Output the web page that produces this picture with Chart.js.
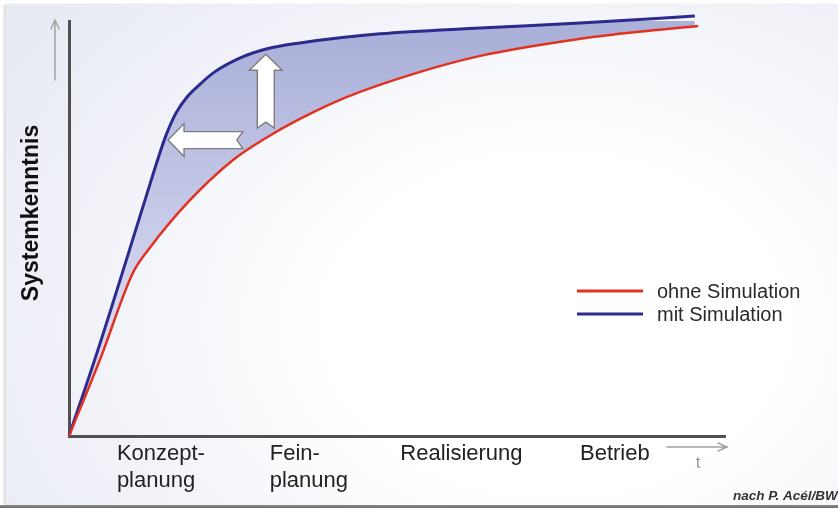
<!DOCTYPE html>
<html>
<head>
<meta charset="utf-8">
<title>Systemkenntnis mit und ohne Simulation</title>
<script src="https://cdn.jsdelivr.net/npm/chart.js@4.4.1/dist/chart.umd.min.js"></script>
<style>
  html, body { margin: 0; padding: 0; background: #ffffff; }
  #frame { position: relative; width: 838px; height: 508px; overflow: hidden; background: #ffffff; }
  #panel {
    position: absolute; left: 6px; top: 4px; width: 832px; height: 501px;
    background: radial-gradient(ellipse 72% 88% at 66% 64%, #ffffff 0%, #ffffff 38%, #f4f5fa 70%, #e8eaf4 110%);
    box-shadow: -2px 1px 3px rgba(0, 0, 0, 0.16);
  }
  #base { position: absolute; left: 0; top: 505px; width: 838px; height: 3px; background: linear-gradient(#8c8c8c, #6c6c6c); }
  #wrap { position: absolute; left: 0; top: 0; width: 838px; height: 508px; }
</style>
</head>
<body>
<div id="frame">
  <div id="panel"></div>
  <div id="base"></div>
  <div id="wrap"><canvas id="chart"></canvas></div>
</div>
<script>
// Project phases along the time axis (t), with the time at which each label starts
const phaseLabels = [['Konzept-', 'planung'], ['Fein-', 'planung'], ['Realisierung'], ['Betrieb']];
const phaseStart = [7.3, 30.6, 50.5, 77.9];

// Series names
const seriesNames = ['ohne Simulation', 'mit Simulation'];

// System knowledge over time, without simulation
const tOhne = [0, 4.7, 9.8, 12.3, 18.0, 25.0, 30.2, 35.2, 42.4, 52.4, 62.7, 77.9, 85.1, 95.9];
const kOhne = [0, 18.3, 39.5, 45.3, 56.1, 66.5, 72.0, 76.4, 81.7, 87.2, 91.6, 95.7, 97.1, 98.8];

// System knowledge over time, with simulation
const tMit = [0, 4.4, 11.6, 13.6, 14.8, 16.3, 18.0, 20.0, 22.0, 26.1, 30.2, 35.2, 47.4, 62.7, 77.9, 95.4];
const kMit = [0, 20.7, 56.9, 67.0, 72.5, 77.8, 81.7, 84.8, 87.5, 91.1, 93.3, 94.7, 96.9, 98.3, 99.5, 101.2];

// Gain arrows between the two curves: [t, k] of tail and tip
const gainArrows = [
  { tail: [26.5, 71.3], tip: [15.1, 71.3] },
  { tail: [30.0, 74.2], tip: [30.0, 92.0] }
];

const yTitle = 'Systemkenntnis';
const tLabel = 't';
const sourceNote = 'nach P. Acél/BWI';

const FONT = "'Liberation Sans', Arial, Helvetica, sans-serif";
const RED = '#e2321f';
const BLUE = '#2d2a8e';

const toPoints = (ts, ks) => ts.map((t, i) => ({ x: t, y: ks[i] }));

function blockArrow(ctx, x0, y0, x1, y1) {
  const L = Math.hypot(x1 - x0, y1 - y0);
  const ux = (x1 - x0) / L, uy = (y1 - y0) / L;
  const vx = -uy, vy = ux;
  const bw = 8.5, hw = 16.5, hl = 16, nd = 6;
  const P = (u, v) => [x0 + ux * u + vx * v, y0 + uy * u + vy * v];
  const pts = [P(0, -bw), P(nd, 0), P(0, bw), P(L - hl, bw), P(L - hl, hw), P(L, 0), P(L - hl, -hw), P(L - hl, -bw)];
  ctx.beginPath();
  pts.forEach((p, i) => (i ? ctx.lineTo(p[0], p[1]) : ctx.moveTo(p[0], p[1])));
  ctx.closePath();
  ctx.fillStyle = '#ffffff';
  ctx.fill();
  ctx.lineWidth = 1.4;
  ctx.strokeStyle = '#7d7d7d';
  ctx.lineJoin = 'miter';
  ctx.stroke();
}

const decorations = {
  id: 'decorations',
  afterDatasetsDraw(chart) {
    const { ctx, scales: { x, y } } = chart;
    ctx.save();
    gainArrows.forEach(a => {
      blockArrow(ctx,
        x.getPixelForValue(a.tail[0]), y.getPixelForValue(a.tail[1]),
        x.getPixelForValue(a.tip[0]), y.getPixelForValue(a.tip[1]));
    });
    ctx.restore();
  },
  afterDraw(chart) {
    const { ctx, chartArea: ca } = chart;
    ctx.save();

    // direction arrows beside the axes
    ctx.strokeStyle = '#a3a3a3';
    ctx.lineWidth = 1.5;
    ctx.lineCap = 'round';
    const ax = ca.left - 14;
    ctx.beginPath();
    ctx.moveTo(ax, ca.top + 59); ctx.lineTo(ax, ca.top - 1);
    ctx.moveTo(ax - 4, ca.top + 8); ctx.lineTo(ax, ca.top - 1); ctx.lineTo(ax + 4, ca.top + 8);
    const ay = ca.bottom + 11;
    ctx.moveTo(ca.right - 58, ay); ctx.lineTo(ca.right + 2, ay);
    ctx.moveTo(ca.right - 7, ay - 4); ctx.lineTo(ca.right + 2, ay); ctx.lineTo(ca.right - 7, ay + 4);
    ctx.stroke();

    ctx.fillStyle = '#9a9a9a';
    ctx.font = '17px ' + FONT;
    ctx.textAlign = 'center';
    ctx.textBaseline = 'alphabetic';
    ctx.fillText(tLabel, ca.right - 27, ca.bottom + 32);

    // y axis title
    ctx.save();
    ctx.translate(ca.left - 37, 213);
    ctx.rotate(-Math.PI / 2);
    ctx.fillStyle = '#111111';
    ctx.font = 'bold 23px ' + FONT;
    ctx.textAlign = 'center';
    ctx.textBaseline = 'middle';
    ctx.fillText(yTitle, 0, 0);
    ctx.restore();

    // legend
    const lx = ca.right - 148;
    chart.data.datasets.forEach((ds, i) => {
      const ly = 291 + i * 23;
      ctx.beginPath();
      ctx.moveTo(lx, ly); ctx.lineTo(lx + 66, ly);
      ctx.strokeStyle = ds.borderColor;
      ctx.lineWidth = 3;
      ctx.lineCap = 'butt';
      ctx.stroke();
      ctx.fillStyle = '#2a2a2a';
      ctx.font = '20px ' + FONT;
      ctx.textAlign = 'left';
      ctx.textBaseline = 'middle';
      ctx.fillText(ds.label, lx + 80, ly + 1);
    });

    // source note
    ctx.fillStyle = '#333333';
    ctx.font = 'italic bold 13.5px ' + FONT;
    ctx.textAlign = 'left';
    ctx.textBaseline = 'alphabetic';
    ctx.fillText(sourceNote, 733, 500);
    ctx.restore();
  }
};

new Chart(document.getElementById('chart'), {
  type: 'line',
  data: {
    datasets: [
      {
        label: seriesNames[0],
        data: toPoints(tOhne, kOhne),
        borderColor: RED,
        borderWidth: 2.5,
        pointRadius: 0,
        fill: false,
        cubicInterpolationMode: 'monotone',
        clip: false
      },
      {
        label: seriesNames[1],
        data: toPoints(tMit, kMit),
        borderColor: BLUE,
        borderWidth: 3,
        pointRadius: 0,
        fill: '-1',
        backgroundColor: (c) => {
          const area = c.chart.chartArea;
          if (!area) return 'rgba(170,176,219,0.9)';
          const g = c.chart.ctx.createLinearGradient(0, area.top + 20, 0, area.top + 280);
          g.addColorStop(0, '#acb1da');
          g.addColorStop(1, '#d3d6ee');
          return g;
        },
        cubicInterpolationMode: 'monotone',
        clip: false
      }
    ]
  },
  options: {
    responsive: true,
    maintainAspectRatio: false,
    animation: false,
    layout: { padding: { left: 0, right: 113, top: 21, bottom: 0 } },
    plugins: { legend: { display: false }, tooltip: { enabled: false } },
    scales: {
      x: {
        type: 'linear',
        min: 0,
        max: 100,
        grid: { display: false, drawTicks: false },
        border: { display: true, color: '#505050', width: 3 },
        afterBuildTicks: (s) => { s.ticks = phaseStart.map(v => ({ value: v })); },
        afterFit: (s) => { s.height = 72; },
        ticks: {
          autoSkip: false,
          maxRotation: 0,
          align: 'start',
          padding: 5,
          color: '#222222',
          font: { family: FONT, size: 22, lineHeight: 1.2 },
          callback: (v, i) => phaseLabels[i]
        }
      },
      y: {
        type: 'linear',
        min: 0,
        max: 100,
        grid: { display: false, drawTicks: false },
        border: { display: true, color: '#505050', width: 3 },
        ticks: { display: false },
        afterFit: (s) => { s.width = 69; }
      }
    }
  },
  plugins: [decorations]
});
</script>
</body>
</html>
